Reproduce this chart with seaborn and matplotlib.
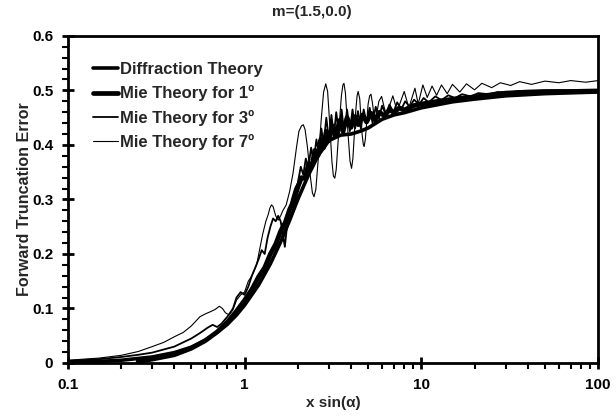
import matplotlib
matplotlib.use("Agg")
import numpy as np
import pandas as pd
import seaborn as sns
from matplotlib import pyplot as plt
from matplotlib.ticker import FixedLocator, FuncFormatter, LogLocator, MultipleLocator

# Diffraction theory (smooth reference curve)
diff_x = [0.1, 0.15, 0.2, 0.3, 0.4, 0.5, 0.6, 0.7, 0.8, 0.9, 1.0, 1.2, 1.4, 1.6, 1.8,
          2.0, 2.3, 2.6, 3.0, 3.5, 4.0, 4.5, 5.0, 6.0, 7.0, 8.0, 10, 15, 20, 30, 50, 70, 100]
diff_y = [0.001, 0.003, 0.005, 0.011, 0.019, 0.029, 0.042, 0.056, 0.071, 0.088, 0.106,
          0.143, 0.182, 0.222, 0.262, 0.300, 0.345, 0.380, 0.408, 0.418, 0.420, 0.425,
          0.431, 0.447, 0.455, 0.459, 0.468, 0.479, 0.484, 0.490, 0.494, 0.4955, 0.497]

# Mie theory, 1 degree (thickest)
mie1_x = [0.25, 0.3, 0.4, 0.5, 0.6, 0.7, 0.8, 0.9, 1.0, 1.1, 1.2, 1.3, 1.4, 1.5, 1.6,
          1.7, 1.8, 1.9, 2.0, 2.1, 2.2, 2.3, 2.4, 2.5, 2.6, 2.7, 2.8, 2.9, 3.0, 3.15,
          3.3, 3.45, 3.6, 3.8, 4.0, 4.2, 4.4, 4.65, 4.9, 5.2, 5.5, 5.8, 6.2, 6.6, 7.0,
          7.5, 8.0, 9.0, 10, 13, 16, 20, 25, 30, 40, 50, 70, 100]
mie1_y = [0.003, 0.007, 0.015, 0.027, 0.041, 0.057, 0.075, 0.095, 0.115, 0.135, 0.158,
          0.175, 0.200, 0.218, 0.242, 0.258, 0.282, 0.298, 0.322, 0.340, 0.338, 0.365,
          0.360, 0.390, 0.380, 0.410, 0.395, 0.425, 0.408, 0.435, 0.418, 0.445, 0.425,
          0.450, 0.432, 0.452, 0.437, 0.455, 0.442, 0.458, 0.447, 0.460, 0.453, 0.465,
          0.459, 0.468, 0.464, 0.472, 0.475, 0.481, 0.485, 0.488, 0.492, 0.495, 0.497,
          0.498, 0.498, 0.499]

# Mie theory, 3 degrees
mie3_x = [0.1, 0.15, 0.2, 0.25, 0.3, 0.4, 0.5, 0.56, 0.62, 0.66, 0.7, 0.74, 0.8, 0.86,
          0.9, 0.95, 1.0, 1.05, 1.1, 1.15, 1.2, 1.25, 1.3, 1.35, 1.4, 1.45, 1.5, 1.55,
          1.6, 1.65, 1.69, 1.75, 1.85, 1.93, 2.0, 2.08, 2.15, 2.22, 2.3, 2.38, 2.46,
          2.55, 2.63, 2.72, 2.8, 2.9, 3.0, 3.1, 3.2, 3.3, 3.42, 3.54, 3.66, 3.8, 3.94,
          4.08, 4.22, 4.38, 4.55, 4.72, 4.9, 5.1, 5.3, 5.52, 5.75, 6.0, 6.3, 6.6, 6.95,
          7.3, 7.7, 8.1, 8.6, 9.1, 9.7, 10.3, 11, 12, 13, 14.2, 15.5, 17, 19, 21, 24,
          27, 31, 36, 45, 60, 80, 100]
mie3_y = [0.004, 0.007, 0.011, 0.015, 0.019, 0.030, 0.045, 0.055, 0.065, 0.070, 0.066,
          0.072, 0.085, 0.100, 0.120, 0.130, 0.125, 0.140, 0.160, 0.175, 0.190, 0.207,
          0.200, 0.230, 0.250, 0.265, 0.260, 0.270, 0.260, 0.235, 0.213, 0.260, 0.300,
          0.320, 0.330, 0.360, 0.345, 0.375, 0.360, 0.395, 0.370, 0.410, 0.385, 0.430,
          0.400, 0.450, 0.410, 0.455, 0.415, 0.460, 0.420, 0.465, 0.420, 0.465, 0.425,
          0.465, 0.430, 0.462, 0.430, 0.465, 0.440, 0.468, 0.440, 0.470, 0.448, 0.472,
          0.455, 0.474, 0.460, 0.478, 0.465, 0.480, 0.470, 0.483, 0.474, 0.486, 0.478,
          0.489, 0.482, 0.491, 0.486, 0.493, 0.489, 0.495, 0.493, 0.497, 0.496, 0.499,
          0.499, 0.500, 0.500, 0.500]

# Mie theory, 7 degrees (thinnest, largest oscillations)
mie7_x = [0.1, 0.15, 0.2, 0.25, 0.3, 0.35, 0.4, 0.45, 0.5, 0.56, 0.6, 0.64, 0.68, 0.72,
          0.75, 0.78, 0.82, 0.86, 0.9, 0.95, 1.0, 1.05, 1.1, 1.17, 1.22, 1.27, 1.32,
          1.36, 1.39, 1.42, 1.45, 1.5, 1.55, 1.6, 1.65, 1.72, 1.8, 1.88, 1.97, 2.03,
          2.1, 2.15, 2.2, 2.27, 2.35, 2.42, 2.47, 2.53, 2.62, 2.72, 2.8, 2.88, 2.95,
          3.03, 3.12, 3.18, 3.24, 3.3, 3.42, 3.53, 3.6, 3.65, 3.72, 3.85, 3.95, 4.03,
          4.1, 4.25, 4.33, 4.39, 4.48, 4.62, 4.7, 4.75, 4.82, 5.0, 5.1, 5.19, 5.3, 5.45,
          5.55, 5.75, 5.96, 6.15, 6.35, 6.9, 7.3, 8.0, 8.5, 9.2, 9.6, 10.2, 10.8, 11.5,
          12.2, 13, 14, 15, 16.5, 18, 20, 22, 25, 28, 32, 36, 42, 50, 60, 70, 85, 100]
mie7_y = [0.005, 0.009, 0.014, 0.021, 0.030, 0.038, 0.048, 0.056, 0.068, 0.085, 0.090,
          0.094, 0.098, 0.104, 0.100, 0.092, 0.088, 0.098, 0.115, 0.125, 0.130, 0.150,
          0.160, 0.180, 0.210, 0.238, 0.260, 0.272, 0.284, 0.290, 0.287, 0.270, 0.262,
          0.270, 0.280, 0.290, 0.315, 0.348, 0.397, 0.425, 0.435, 0.437, 0.428, 0.395,
          0.345, 0.312, 0.305, 0.318, 0.380, 0.450, 0.497, 0.512, 0.498, 0.440, 0.370,
          0.343, 0.339, 0.355, 0.430, 0.490, 0.510, 0.513, 0.495, 0.420, 0.370, 0.357,
          0.375, 0.460, 0.490, 0.498, 0.485, 0.420, 0.400, 0.397, 0.410, 0.475, 0.490,
          0.493, 0.475, 0.440, 0.450, 0.480, 0.489, 0.470, 0.455, 0.490, 0.462, 0.498,
          0.468, 0.504, 0.475, 0.510, 0.487, 0.508, 0.491, 0.510, 0.494, 0.511, 0.497,
          0.512, 0.501, 0.513, 0.505, 0.514, 0.509, 0.516, 0.511, 0.517, 0.514, 0.518,
          0.515, 0.518]

series = [
    ("Diffraction Theory", diff_x, diff_y, 2.6),
    ("Mie Theory for 1º", mie1_x, mie1_y, 3.4),
    ("Mie Theory for 3º", mie3_x, mie3_y, 1.3),
    ("Mie Theory for 7º", mie7_x, mie7_y, 0.8),
]

sns.set_style("ticks")
plt.rcParams["font.family"] = ["Liberation Sans", "DejaVu Sans"]
plt.rcParams["font.weight"] = "bold"

fig = plt.figure(figsize=(6.16, 4.17), dpi=100)
ax = fig.add_axes([0.110, 0.1295, 0.861, 0.7845])

for label, xs, ys, lw in series:
    df = pd.DataFrame({"x": xs, "y": ys})
    sns.lineplot(data=df, x="x", y="y", ax=ax, color="black", linewidth=lw,
                 label=label, estimator=None)

ax.set_xscale("log")
ax.set_xlim(0.1, 100)
ax.set_ylim(0, 0.6)

ax.xaxis.set_major_locator(FixedLocator([0.1, 1, 10, 100]))
ax.xaxis.set_major_formatter(FuncFormatter(lambda v, p: f"{v:g}"))
ax.xaxis.set_minor_locator(LogLocator(base=10, subs=np.arange(2, 10), numticks=20))
ax.yaxis.set_major_locator(MultipleLocator(0.1))
ax.yaxis.set_major_formatter(FuncFormatter(lambda v, p: "0" if v == 0 else f"{v:.1f}"))
ax.yaxis.set_minor_locator(MultipleLocator(0.02))

ax.tick_params(axis="both", which="major", direction="inout", length=9, width=2,
               labelsize=11, pad=6, color="black", labelcolor="black")
ax.tick_params(axis="both", which="minor", direction="out", length=4, width=1.5,
               color="black")
for lab in ax.get_xticklabels() + ax.get_yticklabels():
    lab.set_fontweight("bold")

for side in ["left", "bottom", "right", "top"]:
    ax.spines[side].set_visible(True)
    ax.spines[side].set_color("black")
    ax.spines[side].set_linewidth(2)

ax.set_xlabel("x sin(α)", fontsize=11, fontweight="bold", labelpad=3)
ax.set_ylabel("Forward Truncation Error", fontsize=11.5, fontweight="bold", labelpad=0)
ax.set_title("m=(1.5,0.0)", fontsize=11, fontweight="bold", pad=14, x=0.46)

leg = ax.legend(loc="upper left", frameon=False, handlelength=1.5, handletextpad=0.15,
                labelspacing=0.5, borderpad=0, borderaxespad=0,
                bbox_to_anchor=(0.047, 0.92), prop={"weight": "bold", "size": 12})

fig.savefig("out.png", dpi=100)
